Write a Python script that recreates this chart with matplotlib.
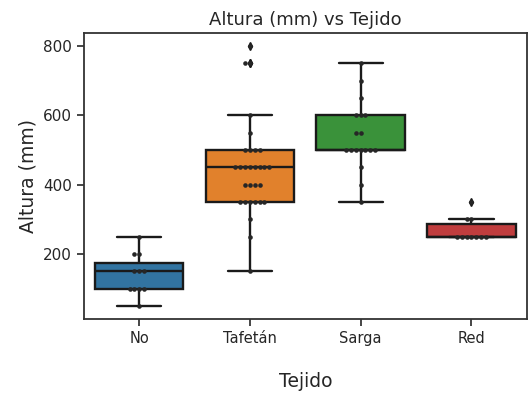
import matplotlib
matplotlib.use("Agg")
import matplotlib.pyplot as plt
import numpy as np
import pandas as pd
import seaborn as sns

# data
tejidos = ["No", "Tafetán", "Sarga", "Red"]
alt_no = [50, 100, 100, 100, 100, 150, 150, 150, 200, 200, 250]
alt_tafetan = [150, 250, 300] + [350] * 6 + [400] * 4 + [450] * 8 + [500] * 4 + [550, 600, 750, 750, 800]
alt_sarga = [350, 400, 450] + [500] * 7 + [550] * 2 + [600] * 3 + [650, 700, 750]
alt_red = [250] * 7 + [300] * 2 + [350]

df = pd.DataFrame({
    "Tejido": ["No"] * len(alt_no) + ["Tafetán"] * len(alt_tafetan)
              + ["Sarga"] * len(alt_sarga) + ["Red"] * len(alt_red),
    "Altura (mm)": alt_no + alt_tafetan + alt_sarga + alt_red,
})

sns.set_style("ticks")
plt.rcParams["font.family"] = ["DejaVu Sans"]

fig = plt.figure(figsize=(5.3, 3.97), dpi=100)
ax = fig.add_axes([0.158, 0.196, 0.836, 0.721])

sns.boxplot(data=df, x="Tejido", y="Altura (mm)", hue="Tejido", order=tejidos,
            palette="tab10", legend=False, linewidth=1.7, linecolor="0.1",
            flierprops=dict(marker="d", markersize=4, markerfacecolor="0.1",
                            markeredgecolor="0.1"), ax=ax)
sns.swarmplot(data=df, x="Tejido", y="Altura (mm)", order=tejidos,
              color="0.15", size=3.3, ax=ax)

ax.set_title("Altura (mm) vs Tejido", fontsize=13)
ax.set_xlabel("Tejido", fontsize=13.5, labelpad=19)
ax.set_ylabel("Altura (mm)", fontsize=13.5)
ax.set_yticks([200, 400, 600, 800])
ax.tick_params(axis="y", labelsize=11, length=5, width=1.2)
ax.tick_params(axis="x", labelsize=10.5, length=5, width=1.2)
for s in ax.spines.values():
    s.set_linewidth(1.3)
    s.set_color("0.2")

fig.savefig("out.png", dpi=100)
